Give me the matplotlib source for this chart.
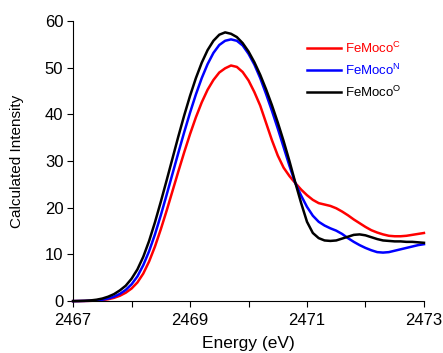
import numpy as np
import matplotlib
matplotlib.use('Agg')
import matplotlib.pyplot as plt

plt.rcParams['font.family'] = ['Liberation Sans', 'DejaVu Sans']

# energy grid (eV), 0.1 eV steps
energy = np.round(np.arange(2467.0, 2473.01, 0.1), 1)

femoco_c = [0.0, 0.01, 0.03, 0.06, 0.12, 0.22, 0.4, 0.7, 1.15, 1.8,
            2.7, 4.0, 5.9, 8.5, 11.7, 15.4, 19.4, 23.6, 27.8, 31.9,
            35.8, 39.4, 42.6, 45.3, 47.4, 49.0, 49.9, 50.5, 50.2, 49.1,
            47.3, 44.8, 41.9, 38.2, 34.5, 31.2, 28.6, 26.8, 25.3, 23.9,
            22.7, 21.7, 21.0, 20.7, 20.4, 19.9, 19.2, 18.4, 17.5, 16.7,
            15.9, 15.2, 14.7, 14.3, 14.0, 13.9, 13.9, 14.0, 14.2, 14.4,
            14.6]

femoco_n = [0.0, 0.02, 0.04, 0.08, 0.16, 0.3, 0.55, 0.95, 1.55, 2.4,
            3.6, 5.3, 7.7, 10.7, 14.3, 18.4, 22.8, 27.3, 31.8, 36.2,
            40.4, 44.3, 47.8, 50.8, 53.2, 54.9, 55.8, 56.1, 55.8, 54.8,
            53.0, 50.7, 47.8, 44.4, 40.8, 37.0, 33.0, 29.0, 25.3, 22.6,
            20.2, 18.3, 17.0, 16.2, 15.6, 15.1, 14.4, 13.5, 12.7, 12.0,
            11.4, 10.9, 10.5, 10.4, 10.5, 10.8, 11.1, 11.4, 11.7, 12.0,
            12.2]

femoco_o = [0.0, 0.03, 0.07, 0.15, 0.3, 0.55, 0.95, 1.5, 2.3, 3.3,
            4.8, 6.8, 9.5, 12.9, 16.9, 21.3, 25.9, 30.6, 35.3, 39.8,
            44.0, 47.8, 51.1, 53.8, 55.8, 57.1, 57.6, 57.3, 56.6, 55.3,
            53.5, 51.2, 48.5, 45.4, 42.0, 38.3, 34.3, 30.0, 25.4, 21.0,
            17.0, 14.6, 13.5, 13.0, 12.9, 13.0, 13.4, 13.8, 14.2, 14.3,
            14.1, 13.7, 13.3, 13.0, 12.9, 12.8, 12.8, 12.7, 12.7, 12.6,
            12.5]

fig = plt.figure(figsize=(4.43, 3.53), dpi=100)
ax = fig.add_axes([0.165, 0.147, 0.792, 0.793])

ax.plot(energy, femoco_c, color='#ff0000', lw=1.8, label=r'FeMoco$^\mathregular{C}$', clip_on=False)
ax.plot(energy, femoco_n, color='#0000ff', lw=1.8, label=r'FeMoco$^\mathregular{N}$', clip_on=False)
ax.plot(energy, femoco_o, color='#000000', lw=1.8, label=r'FeMoco$^\mathregular{O}$', clip_on=False)

ax.set_xlim(2467, 2473)
ax.set_ylim(0, 60)
ax.set_xticks(np.arange(2467, 2474, 1))
ax.set_xticklabels(['2467', '', '2469', '', '2471', '', '2473'])
ax.set_yticks(np.arange(0, 61, 10))

for s in ['top', 'right']:
    ax.spines[s].set_visible(False)
ax.tick_params(direction='out', length=4.5, width=0.8, labelsize=12)
ax.tick_params(axis='x', pad=4)
ax.tick_params(axis='y', pad=2.5)

ax.set_xlabel('Energy (eV)', fontsize=12.5)
ax.set_ylabel('Calculated Intensity', fontsize=11)
ax.xaxis.set_label_coords(0.5, -0.125)
ax.yaxis.set_label_coords(-0.14, 0.5)

leg = ax.legend(loc='upper left', bbox_to_anchor=(0.667, 0.93), frameon=False,
                fontsize=9.5, handlelength=2.6, handletextpad=0.25,
                labelspacing=0.5, borderpad=0, borderaxespad=0,
                labelcolor='linecolor')

fig.savefig('out.png', dpi=100)
